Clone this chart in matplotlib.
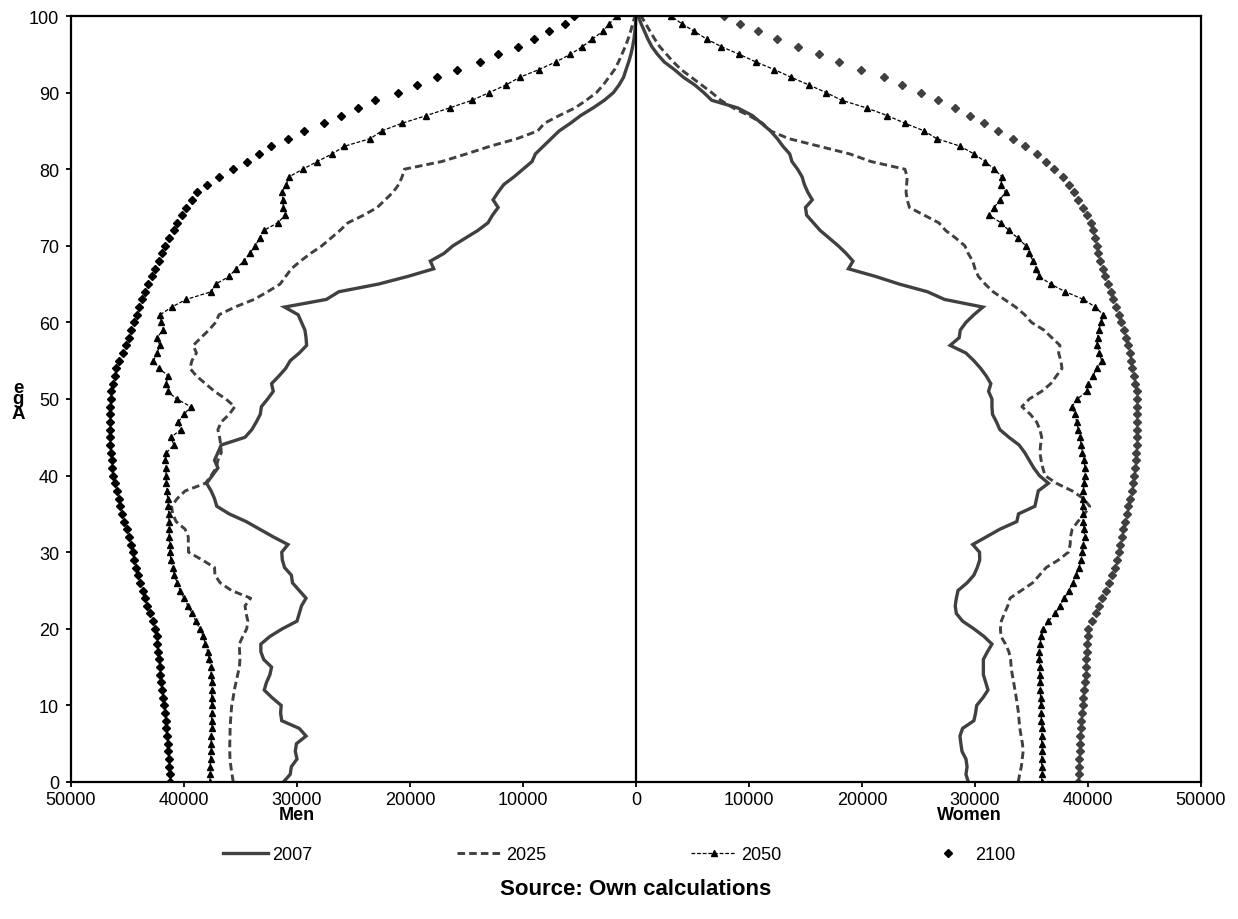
import numpy as np
import matplotlib
matplotlib.use('Agg')
import matplotlib.pyplot as plt
from matplotlib.ticker import FuncFormatter

plt.rcParams['font.family'] = ['Liberation Sans', 'DejaVu Sans']

ages = np.arange(0, 101)

# population by single year of age, men
men_2007 = [31200, 30600, 30500, 30000, 30150, 30050, 29200, 29800, 31350, 31450,
            31400, 32200, 32900, 32700, 32400, 32250, 32950, 33200, 33200, 32400,
            31300, 30000, 29800, 29600, 29200, 29800, 30400, 30500, 31100, 31300,
            31350, 30800, 32100, 33300, 34500, 36000, 37100, 37300, 37600, 38000,
            37500, 37000, 37300, 37000, 36700, 34600, 34000, 33600, 33250, 33150,
            32600, 32100, 32250, 31600, 31000, 30600, 29800, 29150, 29200, 29300,
            29600, 29900, 31100, 27400, 26300, 22800, 20200, 17900, 18200, 17000,
            16200, 15100, 14000, 13100, 12700, 12200, 12650, 12200, 11700, 10800,
            10000, 9200, 8900, 8200, 7500, 6800, 5800, 4900, 3800, 2800,
            2000, 1500, 1100, 880, 650, 450, 300, 180, 100, 40, 0]
men_2025 = [35640, 35750, 35850, 35930, 35950, 35950, 35930, 35920, 35880, 35830,
            35780, 35650, 35550, 35400, 35250, 35100, 35050, 35080, 35110, 34800,
            34450, 34350, 34500, 34600, 34100, 35800, 36800, 37260, 37300, 38400,
            39600, 39620, 39620, 39900, 40700, 41000, 41100, 40600, 39900, 38100,
            37600, 37150, 37000, 36700, 36750, 36850, 37000, 36700, 36000, 35500,
            36300, 37300, 38100, 38900, 39470, 39300, 38900, 39180, 38500, 37800,
            37200, 36900, 35500, 33800, 32600, 31500, 31000, 30500, 29700, 28800,
            27800, 27000, 26200, 25500, 24100, 22900, 22200, 21500, 21000, 20700,
            20500, 17200, 15000, 12900, 10500, 8700, 8100, 6800, 5400, 4400,
            3500, 2900, 2400, 1900, 1550, 1250, 950, 700, 480, 280, 100]
men_2050 = [37700, 37700, 37680, 37650, 37620, 37600, 37580, 37550, 37550, 37550,
            37550, 37550, 37550, 37560, 37580, 37650, 37750, 37900, 38100, 38300,
            38600, 38950, 39300, 39650, 40000, 40350, 40600, 40850, 41000, 41150,
            41250, 41280, 41300, 41320, 41330, 41350, 41400, 41450, 41500, 41550,
            41580, 41600, 41650, 41550, 40900, 41150, 40300, 40500, 40000, 39400,
            40650, 41450, 41600, 41400, 42200, 42700, 42400, 42130, 42400, 41850,
            42000, 42100, 41100, 39800, 37600, 37200, 36000, 35400, 34700, 34200,
            33700, 33300, 32950, 31700, 31050, 31200, 31250, 31330, 30950, 30700,
            29500, 28200, 26900, 25800, 23500, 22500, 20700, 18550, 16500, 14500,
            13000, 11500, 10300, 8600, 7100, 5800, 4750, 3850, 2950, 2350, 1700]
men_2100 = [41240, 41280, 41320, 41360, 41390, 41430, 41500, 41560, 41620, 41680,
            41780, 41880, 41980, 42030, 42080, 42130, 42200, 42280, 42350, 42420,
            42600, 42780, 43000, 43250, 43450, 43650, 43850, 44050, 44250, 44400,
            44550, 44700, 44880, 45070, 45300, 45500, 45650, 45780, 45950, 46100,
            46240, 46330, 46410, 46480, 46520, 46550, 46570, 46580, 46580, 46560,
            46500, 46420, 46250, 46150, 46000, 45750, 45400, 45150, 44900, 44650,
            44400, 44150, 43950, 43700, 43450, 43150, 42850, 42550, 42250, 41950,
            41650, 41300, 40900, 40600, 40200, 39800, 39300, 38850, 38000, 36900,
            35700, 34400, 33400, 32300, 30800, 29360, 27600, 26090, 24600, 23100,
            21100, 19400, 17600, 15800, 13800, 12200, 10400, 9000, 7700, 6300, 5470]

# population by single year of age, women
women_2007 = [29410, 29200, 29300, 29200, 28850, 28750, 28670, 28900, 29900, 30050,
              30150, 30700, 31150, 30950, 30740, 30740, 30740, 31100, 31500, 30800,
              29900, 28900, 28350, 28250, 28350, 28500, 29300, 29900, 30200, 30420,
              30400, 29800, 31000, 32200, 33700, 33850, 35300, 35450, 35600, 36500,
              35700, 35200, 34800, 34400, 33900, 33000, 32200, 31900, 31550, 31500,
              31500, 31200, 31400, 31000, 30500, 29900, 29200, 27800, 28600, 28700,
              29200, 29900, 30700, 27300, 25800, 23300, 21200, 18800, 19200, 18600,
              17900, 17100, 16300, 15700, 15100, 15000, 15600, 15200, 14900, 14700,
              14300, 13800, 13600, 13000, 12500, 11900, 11100, 10300, 9000, 6700,
              6000, 5200, 4200, 3400, 2500, 1900, 1400, 1050, 750, 450, 200]
women_2025 = [33830, 33950, 34100, 34180, 34260, 34200, 34080, 33970, 33900, 33850,
              33750, 33650, 33540, 33420, 33300, 33200, 33150, 33000, 32700, 32300,
              32250, 32330, 32600, 32900, 33100, 34100, 35100, 35700, 36300, 37400,
              38260, 38420, 38450, 38600, 39100, 39700, 40150, 39600, 38600, 37200,
              36200, 36000, 35850, 35750, 35800, 35900, 35750, 35450, 34900, 34150,
              34800, 35900, 36700, 37200, 37700, 37600, 37400, 37520, 36800, 36100,
              35000, 34400, 33600, 32600, 31600, 30900, 30300, 30000, 29800, 29400,
              29100, 28300, 27400, 26800, 25500, 24200, 24000, 23900, 23950, 24000,
              23800, 20800, 18900, 16200, 13500, 11900, 11200, 10000, 8600, 7500,
              6700, 5800, 4900, 4000, 3300, 2700, 2100, 1650, 1250, 850, 450]
women_2050 = [35900, 35900, 35900, 35900, 35900, 35900, 35900, 35900, 35880, 35850,
              35820, 35800, 35780, 35750, 35730, 35720, 35700, 35700, 35750, 35850,
              36050, 36500, 37100, 37500, 37900, 38300, 38650, 38950, 39200, 39400,
              39500, 39580, 39700, 39650, 39600, 39550, 39530, 39550, 39600, 39650,
              39700, 39740, 39650, 39500, 39400, 39300, 39150, 39000, 38850, 38560,
              39050, 39900, 40030, 40400, 40800, 41210, 41000, 40800, 40850, 40950,
              41150, 41360, 40650, 39600, 38000, 36700, 35700, 35400, 35150, 34800,
              34500, 33800, 33000, 32300, 31240, 31700, 32200, 32700, 32300, 32400,
              31700, 30900, 29900, 28700, 26600, 25500, 23800, 22240, 20400, 18200,
              16830, 15300, 13730, 12250, 10610, 9140, 7550, 6250, 5150, 4060, 3080]
women_2100 = [39150, 39180, 39210, 39240, 39270, 39290, 39330, 39370, 39410, 39460,
              39530, 39600, 39670, 39730, 39780, 39820, 39860, 39900, 39940, 39980,
              40030, 40350, 40700, 40950, 41250, 41600, 41900, 42150, 42370, 42550,
              42700, 42850, 42970, 43130, 43280, 43420, 43570, 43720, 43850, 43950,
              44050, 44150, 44220, 44270, 44300, 44330, 44350, 44360, 44370, 44360,
              44330, 44300, 44200, 44050, 43920, 43820, 43720, 43550, 43350, 43150,
              42950, 42720, 42500, 42250, 42000, 41750, 41500, 41300, 41100, 40900,
              40780, 40600, 40400, 40250, 39950, 39600, 39150, 38800, 38300, 37790,
              36980, 36250, 35500, 34450, 33350, 32000, 30800, 29600, 28200, 26750,
              25190, 23550, 21910, 19950, 17980, 16180, 14300, 12500, 10840, 9200, 7830]

dark = '#404040'
W, H = 1238, 920

fig = plt.figure(figsize=(W / 100, H / 100), dpi=100)
ax = fig.add_axes([71 / W, 137 / H, 1130 / W, 766 / H])

men = {'2007': men_2007, '2025': men_2025, '2050': men_2050, '2100': men_2100}
women = {'2007': women_2007, '2025': women_2025, '2050': women_2050, '2100': women_2100}

for side, data in ((-1, men), (1, women)):
    lab = (lambda s: s) if side < 0 else (lambda s: None)
    ax.plot(side * np.array(data['2007']), ages, color=dark, lw=2.4,
            solid_joinstyle='miter', label=lab('2007'))
    ax.plot(side * np.array(data['2025']), ages, color=dark, lw=2.1,
            dashes=(2.6, 1.4), label=lab('2025'))
    ax.plot(side * np.array(data['2050']), ages, color='black', lw=0.9,
            dashes=(3, 1.5), marker='^', ms=5, mfc='black', mec='black',
            label=lab('2050'))
    ax.plot(side * np.array(data['2100']), ages, ls='none', marker='D', ms=4.2,
            color='black' if side < 0 else dark, label=lab('2100'))

ax.axvline(0, color='black', lw=1.6)

ax.set_xlim(-50000, 50000)
ax.set_ylim(0, 100)
ax.set_xticks(np.arange(-50000, 50001, 10000))
ax.set_yticks(np.arange(0, 101, 10))
ax.xaxis.set_major_formatter(FuncFormatter(lambda v, p: f'{abs(int(v))}'))
ax.tick_params(direction='out', length=3.5, width=1.3, labelsize=13)
ax.tick_params(axis='x', pad=3)
ax.tick_params(axis='y', pad=5)
for s in ax.spines.values():
    s.set_linewidth(1.6)

# sex labels under the axis
for xv, name in ((-30000, 'Men'), (29500, 'Women')):
    xf = ax.transData.transform((xv, 0))[0] / W
    fig.text(xf, 1 - 816 / H, name, ha='center', va='center',
             fontsize=13, fontweight='bold')

# stacked axis title
for ch, base in (('e', 393), ('g', 404), ('A', 419)):
    fig.text(18 / W, 1 - base / H, ch, ha='center', va='baseline',
             fontsize=13.5, fontweight='bold')

fig.legend(loc='center', bbox_to_anchor=(0.5, 1 - 856 / H), ncol=4,
           frameon=False, fontsize=13, handlelength=2.5, handletextpad=0.25,
           columnspacing=8.0)

fig.text(636 / W, 1 - 890 / H, 'Source: Own calculations', ha='center',
         va='center', fontsize=16, fontweight='bold')

fig.savefig('out.png', dpi=100)
